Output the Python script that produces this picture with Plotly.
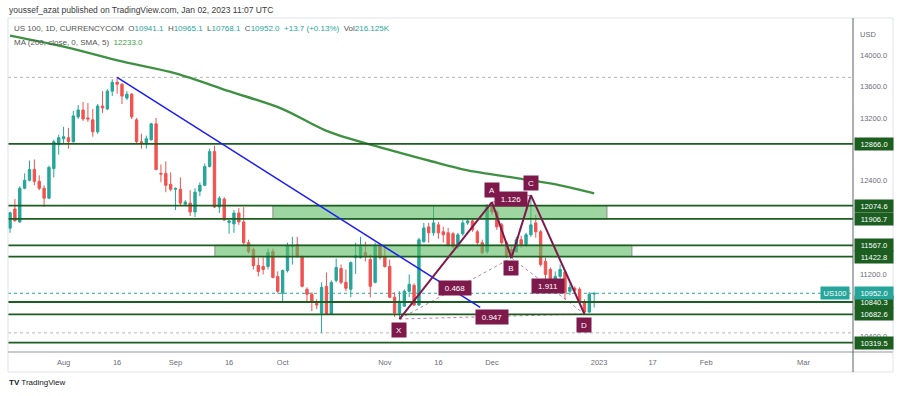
import math
import pandas as pd
import plotly.graph_objects as go

# ---------------- data ----------------
dates = list(pd.bdate_range("2022-07-15", "2022-12-30").strftime("%Y-%m-%d"))

opens = [11787, 12032, 11867, 12298, 12400, 12540, 12387, 12298, 12171, 12552,
         12857, 12933, 12946, 12895, 13213, 13302, 13200, 13175, 13022, 13353,
         13314, 13543, 13657, 13632, 13454, 13505, 13175, 12895, 12870, 12921,
         13124, 12489, 12489, 12349, 12285, 12285, 12095, 12108, 11994, 12260,
         12336, 12578, 12768, 12057, 12159, 11860, 11841, 11981, 11867, 11600,
         11511, 11308, 11295, 11295, 11486, 11168, 10952, 11244, 11550, 11575,
         11422, 11003, 10940, 10825, 10698, 11041, 10686, 11117, 11270, 11092,
         11003, 11409, 11409, 11473, 11384, 11092, 11562, 11422, 11295, 10901,
         10698, 10787, 10978, 11054, 10800, 11613, 11803, 11727, 11829, 11740,
         11727, 11715, 11549, 11714, 11854, 11880, 11740, 11600, 11486, 12057,
         11994, 11829, 11600, 11511, 11486, 11638, 11575, 11702, 11854, 11740,
         11359, 11257, 11067, 11168, 11219, 10978, 11016, 11003, 10838, 10711,
         10941.1]
highs = [11997, 12159, 12324, 12489, 12654, 12667, 12464, 12336, 12590, 12921,
         12984, 13086, 13073, 13289, 13365, 13403, 13390, 13314, 13378, 13543,
         13568, 13695, 13720, 13645, 13543, 13518, 13200, 12997, 12972, 13137,
         13200, 12603, 12641, 12502, 12310, 12438, 12146, 12273, 12298, 12375,
         12616, 12806, 12845, 12197, 12184, 11890, 12019, 12044, 12057, 11638,
         11537, 11409, 11409, 11524, 11524, 11232, 11257, 11600, 11676, 11676,
         11435, 11028, 10965, 10876, 11092, 11219, 11117, 11397, 11321, 11257,
         11359, 11600, 11676, 11613, 11448, 11600, 11587, 11562, 11384, 10965,
         10978, 11003, 11194, 11079, 11663, 11854, 11854, 12070, 11867, 11803,
         11790, 11740, 11727, 11892, 11917, 11917, 11765, 11638, 12095, 12120,
         12019, 11854, 11625, 11549, 11676, 11689, 11727, 12210, 11955, 11765,
         11409, 11282, 11232, 11321, 11244, 11067, 11041, 11028, 10876, 10965,
         10965.1]
lows = [11727, 11867, 11854, 12285, 12387, 12336, 12273, 12057, 12159, 12438,
        12730, 12870, 12806, 12883, 13187, 13162, 13149, 12959, 12997, 13264,
        13302, 13480, 13510, 13378, 13429, 13187, 12870, 12806, 12806, 12908,
        12527, 12375, 12248, 12260, 12020, 12082, 12070, 11943, 11930, 12197,
        12324, 12565, 12044, 11981, 11879, 11715, 11727, 11829, 11575, 11460,
        11257, 11168, 11194, 11257, 11143, 10952, 10838, 11219, 11321, 11409,
        11028, 10838, 10724, 10749, 10444, 10680, 10680, 11092, 11067, 10978,
        10901, 11200, 11397, 11359, 10901, 11079, 11384, 11282, 10889, 10647,
        10622, 10774, 10901, 10787, 10787, 11600, 11600, 11689, 11651, 11600,
        11549, 11524, 11524, 11689, 11829, 11740, 11575, 11448, 11460, 11955,
        11765, 11575, 11409, 11405, 11473, 11537, 11549, 11676, 11663, 11295,
        11130, 11016, 10978, 11143, 10876, 10927, 10952, 10813, 10686, 10698,
        10768.1]
closes = [11985, 11883, 12298, 12400, 12540, 12387, 12298, 12171, 12565, 12895,
          12946, 12959, 12895, 13226, 13302, 13187, 13187, 13022, 13353, 13327,
          13543, 13657, 13632, 13480, 13505, 13213, 12895, 12870, 12933, 13124,
          12540, 12480, 12336, 12285, 12295, 12108, 12121, 11994, 12248, 12336,
          12578, 12768, 12057, 12171, 11892, 11880, 11981, 11867, 11600, 11486,
          11308, 11232, 11257, 11473, 11155, 10978, 11244, 11562, 11560, 11435,
          11041, 10940, 10838, 10800, 11028, 10686, 11092, 11282, 11092, 11016,
          11346, 11435, 11549, 11435, 11041, 11562, 11409, 11295, 10901, 10698,
          10851, 10978, 11067, 10800, 11638, 11790, 11727, 11854, 11727, 11702,
          11575, 11549, 11702, 11854, 11880, 11765, 11600, 11473, 12070, 11994,
          11803, 11600, 11422, 11420, 11638, 11575, 11702, 11829, 11740, 11321,
          11194, 11041, 11168, 11257, 10965, 11028, 10990, 10838, 10711, 10940,
          10952.0]

ma_dates = ["2022-07-15", "2022-08-01", "2022-08-17", "2022-09-01", "2022-09-16",
            "2022-10-03", "2022-10-14", "2022-11-01", "2022-11-14", "2022-11-24",
            "2022-12-01", "2022-12-13", "2022-12-21", "2022-12-30"]
ma_values = [14255, 14114, 13924, 13771, 13543, 13314, 13035, 12806, 12654, 12527,
             12476, 12400, 12336, 12233]

levels = [12866.0, 12074.6, 11906.7, 11567.0, 11422.8, 10840.3, 10682.6, 10319.5]
level_labels = ["12866.0", "12074.6", "11906.7", "11567.0", "11422.8", "10840.3", "10682.6", "10319.5"]

zone_starts = ["2022-09-29 12:00", "2022-09-13 14:00"]
zone_ends = ["2023-01-04 03:00", "2023-01-11 06:00"]
zone_tops = [12074.6, 11567.0]
zone_bottoms = [11906.7, 11422.8]

trend_dates = ["2022-08-16 12:00", "2022-11-29 02:00"]
trend_prices = [13720, 10770]

pattern_names = ["X", "A", "B", "C", "D"]
pattern_dates = ["2022-11-04", "2022-12-01", "2022-12-07", "2022-12-13", "2022-12-28"]
pattern_prices = [10622, 12120, 11405, 12210, 10686]
ratio_texts = ["0.468", "1.126", "1.911", "0.947"]
ratio_pairs = [(0, 2), (1, 3), (2, 4), (0, 4)]

hi_line, lo_line = 13720, 10444
last_price = 10952.0

tick_dates = ["2022-08-01", "2022-08-16", "2022-09-01", "2022-09-16", "2022-10-03",
              "2022-11-01", "2022-11-16", "2022-12-01", "2023-01-02", "2023-01-17",
              "2023-02-01", "2023-03-01"]
tick_texts = ["Aug", "16", "Sep", "16", "Oct", "Nov", "16", "Dec", "2023", "17", "Feb", "Mar"]
price_ticks = [10400, 11200, 12400, 13200, 13600, 14000]

# ---------------- helpers ----------------
UP, DOWN = "#26a69a", "#ef5350"
LEVEL = "#1b5e20"
PAT = "#7e1a4b"
FONT = "Liberation Sans"

cal = pd.bdate_range("2022-07-01", "2023-04-30")
cal_idx = {d.strftime("%Y-%m-%d"): i for i, d in enumerate(cal)}


def noon(d):
    return (pd.Timestamp(d) + pd.Timedelta(hours=12)).strftime("%Y-%m-%d %H:%M")


def mid(d1, d2):
    f = (cal_idx[d1] + cal_idx[d2]) / 2.0
    i = int(math.floor(f))
    t = cal[i] + pd.Timedelta(hours=12) + pd.Timedelta(hours=24 * (f - i))
    return t.strftime("%Y-%m-%d %H:%M")


L, R, T, B = 8, 853, 18, 352
W, H = 900, 396


def px(x):
    return (x - L) / (R - L)


def py(y):
    return (B - y) / (B - T)


x_noon = [noon(d) for d in dates]

fig = go.Figure()

fig.add_trace(go.Scatter(x=[noon(d) for d in ma_dates], y=ma_values, mode="lines",
                         line=dict(color="#3e9142", width=2.4, shape="spline", smoothing=0.9),
                         hoverinfo="skip", showlegend=False))

fig.add_trace(go.Candlestick(
    x=x_noon, open=opens, high=highs, low=lows, close=closes,
    increasing=dict(line=dict(color=UP, width=1), fillcolor=UP),
    decreasing=dict(line=dict(color=DOWN, width=1), fillcolor=DOWN),
    whiskerwidth=0, showlegend=False))

shapes = []
for val, col in [(hi_line, "#b5b5b5"), (lo_line, "#b5b5b5"), (last_price, UP)]:
    shapes.append(dict(type="line", xref="paper", x0=0, x1=1, yref="y", y0=val, y1=val,
                       line=dict(color=col, width=1, dash="dot"), layer="below"))
for xs, xe, yt, yb in zip(zone_starts, zone_ends, zone_tops, zone_bottoms):
    shapes.append(dict(type="rect", xref="x", yref="y", x0=xs, x1=xe, y0=yb, y1=yt,
                       fillcolor="rgba(92,186,96,0.60)", line=dict(color="#8a8f8a", width=1),
                       layer="above"))
for lv in levels:
    shapes.append(dict(type="line", xref="paper", x0=0, x1=1, yref="y", y0=lv, y1=lv,
                       line=dict(color=LEVEL, width=1.8), layer="above"))
shapes.append(dict(type="line", xref="x", yref="y", x0=trend_dates[0], x1=trend_dates[1],
                   y0=trend_prices[0], y1=trend_prices[1],
                   line=dict(color="#1c1cf5", width=1.5), layer="above"))
for a, b in ratio_pairs:
    shapes.append(dict(type="line", xref="x", yref="y", x0=noon(pattern_dates[a]), x1=noon(pattern_dates[b]),
                       y0=pattern_prices[a], y1=pattern_prices[b],
                       line=dict(color="rgba(126,26,75,0.55)", width=1, dash="dot"), layer="above"))
for i in range(len(pattern_dates) - 1):
    shapes.append(dict(type="line", xref="x", yref="y", x0=noon(pattern_dates[i]), x1=noon(pattern_dates[i + 1]),
                       y0=pattern_prices[i], y1=pattern_prices[i + 1],
                       line=dict(color=PAT, width=2), layer="above"))
shapes.append(dict(type="rect", xref="paper", yref="paper", x0=0, x1=px(893), y0=py(372), y1=1,
                   line=dict(color="#e0e3eb", width=1), layer="above"))
shapes.append(dict(type="line", xref="paper", yref="paper", x0=0, x1=px(893), y0=0, y1=0,
                   line=dict(color="#c9cbd1", width=2), layer="above"))
shapes.append(dict(type="line", xref="paper", yref="paper", x0=1, x1=1, y0=py(372), y1=1,
                   line=dict(color="#5d606b", width=1), layer="above"))

ann = []
offs = {"X": -11, "A": 12, "B": -10, "C": 12, "D": -11}
for n, d, p in zip(pattern_names, pattern_dates, pattern_prices):
    ann.append(dict(x=noon(d), y=p, xref="x", yref="y", text=n, showarrow=False, yshift=offs[n],
                    bgcolor=PAT, font=dict(color="white", size=8, family=FONT), width=12, height=12,
                    borderpad=1))
for t, (a, b) in zip(ratio_texts, ratio_pairs):
    ann.append(dict(x=mid(pattern_dates[a], pattern_dates[b]), y=(pattern_prices[a] + pattern_prices[b]) / 2,
                    xref="x", yref="y", text=t, showarrow=False, bgcolor=PAT,
                    font=dict(color="white", size=8, family=FONT), width=30, height=12, borderpad=1))
for lv, t in zip(levels, level_labels):
    ann.append(dict(x=1, xref="paper", y=lv, yref="y", xanchor="left", text=t, showarrow=False,
                    bgcolor=LEVEL, font=dict(color="white", size=7.5, family=FONT),
                    width=36, height=10, borderpad=1, xshift=1))
ann.append(dict(x=1, xref="paper", y=last_price, yref="y", xanchor="left", text="10952.0", showarrow=False,
                bgcolor=UP, font=dict(color="white", size=7.5, family=FONT), width=36, height=10,
                borderpad=1, xshift=1))
ann.append(dict(x=1, xref="paper", y=last_price, yref="y", xanchor="right", text="US100", showarrow=False,
                bgcolor=UP, font=dict(color="white", size=7.5, family=FONT), width=26, height=10,
                borderpad=1, xshift=-3))
ann.append(dict(x=px(858), y=py(28), xref="paper", yref="paper", xanchor="left", text="USD",
                showarrow=False, font=dict(color="#6a6d78", size=7.5, family=FONT)))

g = "#555"
tv = UP
row2 = (f"<span style='color:{g}'>US 100, 1D, CURRENCYCOM</span>\u00a0\u00a0"
        f"<span style='color:{g}'>O</span><span style='color:{tv}'>10941.1</span>\u00a0\u00a0"
        f"<span style='color:{g}'>H</span><span style='color:{tv}'>10965.1</span>\u00a0\u00a0"
        f"<span style='color:{g}'>L</span><span style='color:{tv}'>10768.1</span>\u00a0\u00a0"
        f"<span style='color:{g}'>C</span><span style='color:{tv}'>10952.0</span>\u00a0\u00a0"
        f"<span style='color:{tv}'>+13.7 (+0.13%)</span>\u00a0\u00a0"
        f"<span style='color:{g}'>Vol</span><span style='color:{tv}'>216.125K</span>")
row3 = (f"<span style='color:{g}'>MA (200, close, 0, SMA, 5)</span>\u00a0\u00a0"
        f"<span style='color:#43a047'>12233.0</span>")
ann.append(dict(x=px(7), y=py(10), xref="paper", yref="paper", xanchor="left", yanchor="middle",
                text="youssef_azat published on TradingView.com, Jan 02, 2023 11:07 UTC",
                showarrow=False, font=dict(color="#3a3a3a", size=8.5, family=FONT)))
ann.append(dict(x=px(12), y=py(28), xref="paper", yref="paper", xanchor="left", yanchor="middle",
                text=row2, showarrow=False, font=dict(size=8, family=FONT)))
ann.append(dict(x=px(12), y=py(42), xref="paper", yref="paper", xanchor="left", yanchor="middle",
                text=row3, showarrow=False, font=dict(size=8, family=FONT)))
ann.append(dict(x=px(7), y=py(383), xref="paper", yref="paper", xanchor="left", yanchor="middle",
                text="<b>TV</b> TradingView", showarrow=False,
                font=dict(color="#131722", size=8, family=FONT)))

fig.update_layout(
    width=W, height=H,
    margin=dict(l=L, r=W - R, t=T, b=H - B, pad=0),
    paper_bgcolor="white", plot_bgcolor="white",
    shapes=shapes, annotations=ann, showlegend=False,
    font=dict(family=FONT, size=8, color="#555"),
    xaxis=dict(type="date", range=["2022-07-15 02:00", "2023-03-15 16:00"],
               rangebreaks=[dict(bounds=["sat", "mon"])],
               rangeslider=dict(visible=False), automargin=False,
               tickmode="array", tickvals=[noon(d) for d in tick_dates], ticktext=tick_texts,
               showgrid=False, zeroline=False, showline=False, ticks="",
               tickfont=dict(size=7.5, color="#6a6d78", family=FONT), ticklabelstandoff=4),
    yaxis=dict(side="right", range=[10199, 14481], tickmode="array", tickvals=price_ticks,
               ticktext=[f"{v:.1f}" for v in price_ticks], automargin=False,
               showgrid=False, zeroline=False, showline=False, ticks="",
               tickfont=dict(size=7.5, color="#6a6d78", family=FONT), ticklabelstandoff=6),
)

fig.write_html("out.html", config={"displayModeBar": False},
               post_script="document.body.style.margin='0';document.body.style.overflow='hidden';")
